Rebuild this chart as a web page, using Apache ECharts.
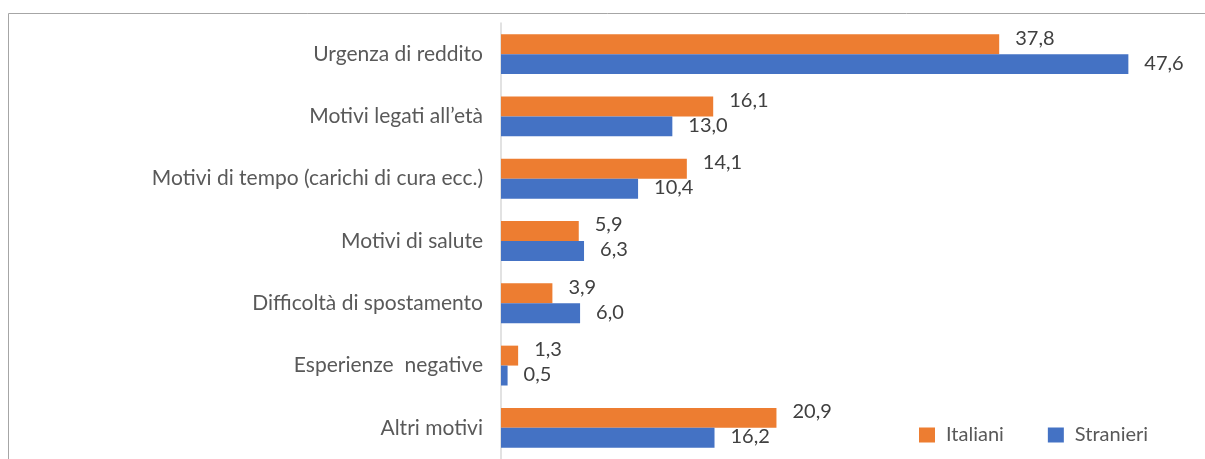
<!DOCTYPE html>
<html><head><meta charset="utf-8">
<script src="https://cdn.jsdelivr.net/npm/echarts@6/dist/echarts.min.js"></script>
<style>html,body{margin:0;padding:0;background:#fff}#c{width:1205px;height:459px}</style>
</head><body><div id="c"></div>
<script>
const categories = ["Urgenza di reddito","Motivi legati all\u2019età","Motivi di tempo (carichi di cura ecc.)","Motivi di salute","Difficoltà di spostamento","Esperienze  negative","Altri motivi"];
const italiani = [37.8,16.1,14.1,5.9,3.9,1.3,20.9];
const stranieri = [47.6,13.0,10.4,6.3,6.0,0.5,16.2];
const seriesNames = ["Italiani","Stranieri"];

const fmt = p => p.value.toFixed(1).replace('.', ',');
const font = 'Lato, "Open Sans", sans-serif';
const chart = echarts.init(document.getElementById('c'), null, {renderer:'canvas'});
chart.setOption({
  animation:false,
  textStyle:{fontFamily:font},
  graphic:[{type:'rect',shape:{x:8.5,y:13.5,width:1300,height:600},style:{fill:'none',stroke:'#a6a6a6',lineWidth:1},silent:true,z:-1}],
  grid:{left:501,top:23,width:659,height:439,containLabel:false},
  xAxis:{type:'value',min:0,max:50,show:false},
  yAxis:{type:'category',data:categories,inverse:true,
    axisLine:{lineStyle:{color:'#d9d9d9',width:1.5}},axisTick:{show:false},
    axisLabel:{color:'#595959',fontSize:21,margin:18,fontFamily:font,padding:[0,0,6,0]}},
  legend:{left:914,top:420,itemWidth:16,itemHeight:15,itemGap:44,icon:'rect',
    textStyle:{color:'#595959',fontSize:20,fontFamily:font,padding:[0,0,0,6]},data:seriesNames},
  series:[
    {name:seriesNames[0],type:'bar',data:italiani,barGap:'0%',barCategoryGap:'36%',
     itemStyle:{color:'#ED7D31'},
     label:{show:true,position:'right',distance:16,offset:[0,-6],color:'#404040',fontSize:20,fontFamily:font,formatter:fmt}},
    {name:seriesNames[1],type:'bar',data:stranieri,
     itemStyle:{color:'#4472C4'},
     label:{show:true,position:'right',distance:16,offset:[0,-1],color:'#404040',fontSize:20,fontFamily:font,formatter:fmt}}
  ]
});
</script></body></html>
